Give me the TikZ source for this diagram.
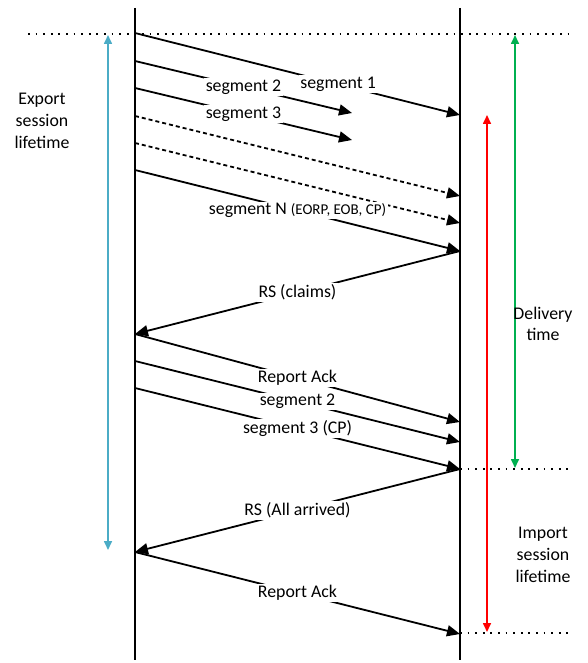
\documentclass[tikz,border=0pt]{standalone}
\usepackage{fontspec}
\setmainfont{Carlito}
\usetikzlibrary{arrows.meta}
\definecolor{aqua}{RGB}{75,172,198}
\definecolor{ogreen}{RGB}{0,176,80}
\definecolor{ored}{RGB}{255,0,0}
\begin{document}
\begin{tikzpicture}[x=1pt,y=-1pt,
  lifeline/.style={line width=1.8pt},
  msg/.style={line width=1.8pt,-{Triangle[length=13pt,width=11pt]}},
  dmsg/.style={msg,dash pattern=on 4pt off 3pt},
  lbl/.style={fill=white,inner sep=1.5pt,font=\fontsize{17.8}{21.7}\selectfont},
  dotline/.style={line width=1.8pt,dash pattern=on 1.8pt off 5.8pt},
  span/.style={line width=1.6pt,{Triangle[length=9pt,width=8pt]}-{Triangle[length=9pt,width=8pt]}},
  txt/.style={align=center,font=\fontsize{17.8}{21.7}\selectfont}
]
\useasboundingbox (0,0) rectangle (587,663);
% lifelines
\coordinate (Ltop) at (135,8);
\coordinate (Lbot) at (135,660);
\coordinate (Rtop) at (460,8);
\coordinate (Rbot) at (460,660);
\draw[lifeline] (Ltop) -- (Lbot);
\draw[lifeline] (Rtop) -- (Rbot);
% dotted reference lines
\coordinate (T1) at (28,34);
\coordinate (T2) at (574,34);
\coordinate (M1) at (460,469);
\coordinate (M2) at (570,469);
\coordinate (B1) at (460,633);
\coordinate (B2) at (570,633);
\draw[dotline] (T1) -- (T2);
\draw[dotline] (M1) -- (M2);
\draw[dotline] (B1) -- (B2);
% message endpoints
\coordinate (s1a) at (135,33);
\coordinate (s1b) at (460,115);
\coordinate (s2a) at (135,61);
\coordinate (s2b) at (352,113);
\coordinate (s3a) at (135,88);
\coordinate (s3b) at (352,140);
\coordinate (d1a) at (135,116);
\coordinate (d1b) at (460,196);
\coordinate (d2a) at (135,143);
\coordinate (d2b) at (460,223);
\coordinate (sNa) at (135,170);
\coordinate (sNb) at (460,251);
\coordinate (rs1b) at (135,334);
\coordinate (ra1b) at (460,422);
\coordinate (g2a) at (135,361);
\coordinate (g2b) at (460,442);
\coordinate (g3a) at (135,388);
\coordinate (g3b) at (460,469);
\coordinate (rs2b) at (135,552);
\coordinate (ra2b) at (460,634);
% messages
\draw[msg] (s1a) -- node[lbl,pos=0.625] (l1) {segment 1} (s1b);
\draw[msg] (s2a) -- node[lbl,pos=0.5] (l2) {segment 2} (s2b);
\draw[msg] (s3a) -- node[lbl,pos=0.5] (l3) {segment 3} (s3b);
\draw[dmsg] (d1a) -- (d1b);
\draw[dmsg] (d2a) -- (d2b);
\draw[msg] (sNa) -- node[lbl,pos=0.5] (lN) {segment N {\fontsize{15}{18}\selectfont(EORP, EOB, CP)}} (sNb);
\draw[msg] (sNb) -- node[lbl,pos=0.5] (l5) {RS (claims)} (rs1b);
\draw[msg] (rs1b) -- node[lbl,pos=0.5] (l6) {Report Ack} (ra1b);
\draw[msg] (g2a) -- node[lbl,pos=0.5] (l7) {segment 2} (g2b);
\draw[msg] (g3a) -- node[lbl,pos=0.5] (l8) {segment 3 (CP)} (g3b);
\draw[msg] (g3b) -- node[lbl,pos=0.5] (l9) {RS (All arrived)} (rs2b);
\draw[msg] (rs2b) -- node[lbl,pos=0.5] (l10) {Report Ack} (ra2b);
% spans
\coordinate (bA) at (108,35);
\coordinate (bB) at (108,550);
\coordinate (gA) at (515,35);
\coordinate (gB) at (515,468);
\coordinate (rA) at (487,115);
\coordinate (rB) at (487,632);
\draw[span,draw=aqua,fill=aqua] (bA) -- (bB);
\draw[span,draw=ogreen,fill=ogreen] (gA) -- (gB);
\draw[span,draw=ored,fill=ored] (rA) -- (rB);
% side texts
\node[txt] (exp) at (42,121) {Export\\session\\lifetime};
\node[txt] (del) at (543,324) {Delivery\\time};
\node[txt] (imp) at (543,555) {Import\\session\\lifetime};
\end{tikzpicture}
\end{document}
